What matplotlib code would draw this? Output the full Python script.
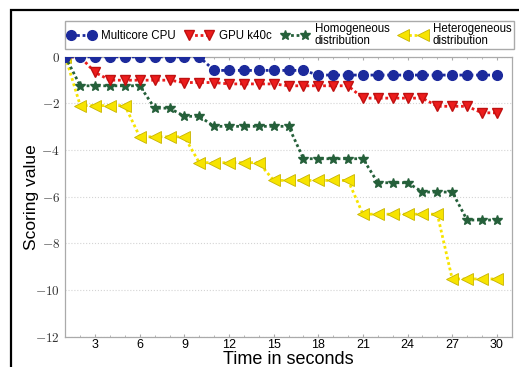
import numpy as np
import matplotlib
matplotlib.use("Agg")
import matplotlib.pyplot as plt
from matplotlib.patches import Rectangle

plt.rcParams['font.family'] = ['Liberation Sans', 'DejaVu Sans']
plt.rcParams['mathtext.fontset'] = 'cm'

# time axis (seconds)
t = np.arange(1, 31)

cpu = [0]*10 + [-0.58]*7 + [-0.78]*13
gpu = [0, 0, -0.67] + [-1.0]*5 + [-1.1]*3 + [-1.16]*4 + [-1.24]*5 + [-1.77]*5 + [-2.12]*3 + [-2.4]*2
homo = [0] + [-1.24]*5 + [-2.2]*2 + [-2.55]*2 + [-2.98]*6 + [-4.37]*5 + [-5.4]*3 + [-5.8]*3 + [-7.0]*3
hetero = [0] + [-2.09]*4 + [-3.43]*4 + [-4.54]*5 + [-5.3]*6 + [-6.75]*6 + [-9.53]*4

labels = ["Multicore CPU", "GPU k40c", "Homogeneous\ndistribution", "Heterogeneous\ndistribution"]
xticks = [3, 6, 9, 12, 15, 18, 21, 24, 27, 30]
yticks = [0, -2, -4, -6, -8, -10, -12]
yticklabels = ["$0$", "$-2$", "$-4$", "$-6$", "$-8$", "$-10$", "$-12$"]

fig = plt.figure(figsize=(5.19, 3.67), dpi=100)
ax = fig.add_axes([0.126, 0.083, 0.86, 0.762])

dots = (0, (1, 1))
ax.plot(t, hetero, color="#f7e400", ls=dots, lw=2, marker="<", ms=8.5,
        mec="#c8b400", mew=0.6, label=labels[3], zorder=2)
ax.plot(t, homo, color="#25603a", ls=dots, lw=2, marker="*", ms=7.5,
        mec="#25603a", label=labels[2], zorder=3)
ax.plot(t, gpu, color="#ec1c1c", ls=dots, lw=2, marker="v", ms=7.5,
        mec="#c01010", label=labels[1], zorder=4)
ax.plot(t, cpu, color="#1c2a9c", ls=dots, lw=2, marker="o", ms=7,
        mec="#1c2a9c", label=labels[0], zorder=5)

ax.set_xlim(1, 31)
ax.set_ylim(-12, 0)
ax.set_xticks(xticks)
ax.set_xticks(np.arange(1, 32), minor=True)
ax.set_yticks(yticks)
ax.set_yticklabels(yticklabels, fontsize=9.5, color="#333333")
ax.tick_params(axis='x', labelsize=9, pad=2)
ax.tick_params(which='both', direction='in', top=True, right=False, color="#aaaaaa")
ax.tick_params(which='major', length=2.5)
ax.tick_params(which='minor', length=1.5)
ax.tick_params(axis='y', length=0, pad=4)
ax.grid(axis='y', color="#d4d4d4", ls=':', lw=0.8)
for s in ax.spines.values():
    s.set_color("#aaaaaa")
    s.set_linewidth(0.9)

ax.set_xlabel("Time in seconds", fontsize=13, labelpad=0)
ax.set_ylabel("Scoring value", fontsize=12.5, labelpad=-3)

handles, labs = ax.get_legend_handles_labels()
order = [3, 2, 1, 0]
leg = fig.legend([handles[i] for i in order], [labs[i] for i in order],
                 loc="lower left", bbox_to_anchor=(0.125, 0.866, 0.865, 0.068),
                 mode="expand", ncol=4, fontsize=8.3, numpoints=2, handlelength=2.4,
                 handletextpad=0.5, columnspacing=0.6, borderaxespad=0, fancybox=False,
                 edgecolor="#aaaaaa", framealpha=1, borderpad=0.22, labelspacing=0.1)
for txt in leg.get_texts():
    txt.set_linespacing(0.95)

# outer black frame of the original figure
fig.patches.append(Rectangle((11/519, -0.5), 1.5, 1.5 - 10/367,
                             transform=fig.transFigure, fill=False,
                             ec="black", lw=1.6))

fig.savefig("out.png", dpi=100)
